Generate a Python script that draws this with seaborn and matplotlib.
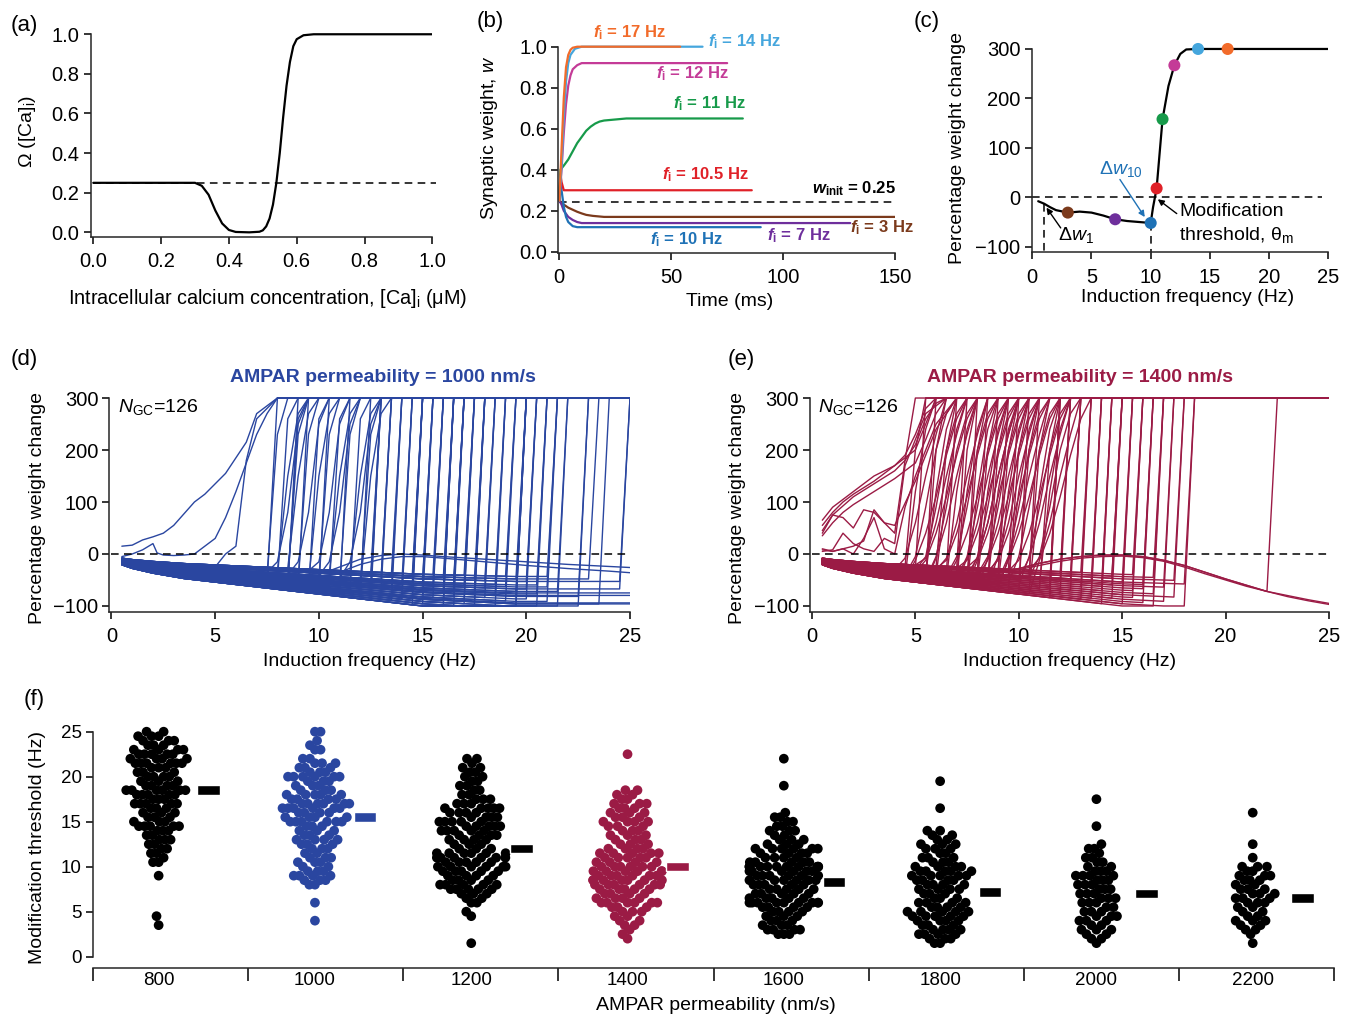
import numpy as np
import pandas as pd
import seaborn as sns
import matplotlib.pyplot as plt

sns.set_style('ticks')
plt.rcParams['font.family'] = ['Liberation Sans', 'DejaVu Sans']
plt.rcParams['mathtext.fontset'] = 'custom'
plt.rcParams['mathtext.rm'] = 'Liberation Sans'
plt.rcParams['mathtext.it'] = 'Liberation Sans:italic'
plt.rcParams['mathtext.bf'] = 'Liberation Sans:bold'
plt.rcParams['mathtext.bfit'] = 'Liberation Sans:italic:bold'
plt.rcParams['text.color'] = 'black'
plt.rcParams['axes.labelcolor'] = 'black'
plt.rcParams['xtick.color'] = 'black'
plt.rcParams['ytick.color'] = 'black'

# ---------------- data ----------------
# (a) calcium dependence
ca_conc = [0.0, 0.30, 0.32, 0.34, 0.36, 0.38, 0.40, 0.42, 0.46, 0.49, 0.50, 0.51, 0.52,
           0.53, 0.54, 0.55, 0.56, 0.57, 0.58, 0.59, 0.60, 0.62, 0.65, 1.0]
omega = [0.25, 0.25, 0.235, 0.19, 0.11, 0.045, 0.012, 0.002, 0.0, 0.003, 0.01, 0.03, 0.07,
         0.14, 0.25, 0.40, 0.58, 0.74, 0.86, 0.94, 0.975, 0.995, 1.0, 1.0]

# (b) synaptic weight time courses
b_t17 = [0, 1, 2, 3, 4, 5, 6, 8, 54]
b_w17 = [0.25, 0.5, 0.75, 0.9, 0.96, 0.985, 0.995, 1.0, 1.0]
b_t14 = [0, 1, 2, 3, 4, 5, 7, 10, 64]
b_w14 = [0.25, 0.42, 0.66, 0.83, 0.92, 0.96, 0.99, 1.0, 1.0]
b_t12 = [0, 1, 2, 3, 4, 5, 6, 8, 10, 15, 75]
b_w12 = [0.25, 0.4, 0.58, 0.72, 0.81, 0.86, 0.89, 0.91, 0.92, 0.92, 0.92]
b_t11 = [0, 0.5, 2, 4, 6, 8, 10, 12, 14, 16, 18, 20, 25, 30, 82]
b_w11 = [0.25, 0.4, 0.42, 0.45, 0.49, 0.53, 0.56, 0.59, 0.61, 0.625, 0.635, 0.64, 0.645, 0.65, 0.65]
b_t105 = [0, 0.5, 1, 2, 3, 86]
b_w105 = [0.25, 0.38, 0.34, 0.3, 0.3, 0.3]
b_t10 = [0, 0.5, 1, 2, 3, 4, 6, 8, 10, 90]
b_w10 = [0.25, 0.36, 0.3, 0.22, 0.17, 0.145, 0.125, 0.12, 0.12, 0.12]
b_t7 = [0, 1, 2, 4, 6, 8, 10, 15, 130]
b_w7 = [0.25, 0.23, 0.2, 0.17, 0.155, 0.145, 0.14, 0.14, 0.14]
b_t3 = [0, 2, 4, 6, 8, 10, 12, 15, 20, 150]
b_w3 = [0.25, 0.23, 0.215, 0.205, 0.195, 0.187, 0.18, 0.175, 0.17, 0.17]

# (c) weight change vs induction frequency
c_curve_f = [0.5, 1, 1.5, 2, 3, 4, 5, 6, 7, 8, 9, 10, 10.2, 10.5, 11, 11.5, 12, 12.5, 13, 14, 16.5, 25]
c_curve_w = [-8, -13, -20, -26, -31, -29, -31, -37, -44.5, -48, -50, -52, -20, 18, 158, 225, 267, 290, 299, 300, 300, 300]
c_pts_f = [3, 7, 10, 10.5, 11, 12, 14, 16.5]
c_pts_w = [-31, -44.5, -52, 18, 158, 267, 300, 300]
c_pts_hz = ['3', '7', '10', '10.5', '11', '12', '14', '17']

# (d)/(e) shared sub-threshold depression profile on the 0.5 Hz grid
ltd_profile = [-18, -24, -28, -32, -35, -38, -41, -43, -45, -47,
               -49, -51, -53, -55, -57, -59, -61, -63, -65, -67,
               -69, -71, -73, -75, -77, -79, -81, -83, -85, -87,
               -88, -89, -90, -91, -92, -93, -94, -95, -96, -96,
               -96, -96, -96, -96, -96, -96, -96, -96, -96, -96]
ltd_scale = [1.0, 0.7, 0.55, 0.9, 0.62, 1.1, 0.8, 0.45, 0.95, 0.66, 1.05, 0.75, 0.85, 1.15, 0.5]
# shapes of the rise through threshold (offset from threshold in Hz, weight change in %)
d_ramps = [
    [(0, 300)],
    [(0, 230), (0.5, 300)],
    [(0, 150), (0.5, 270), (1.0, 300)],
    [(0, 260), (0.5, 300)],
    [(-0.5, -15), (0, 80), (0.5, 250), (1.0, 300)],
]
e_ramps = [
    [(0, 120), (0.5, 240), (1.0, 300)],
    [(-0.5, -8), (0, 60), (0.5, 150), (1.0, 230), (1.5, 300)],
    [(0, 200), (0.5, 300)],
    [(-0.5, -5), (0, 90), (0.5, 200), (1.0, 270), (1.5, 300)],
    [(0, 300)],
    [(-0.5, -12), (0, 40), (0.5, 110), (1.0, 190), (1.5, 260), (2.0, 300)],
]

# (d) traces that rise gradually or never potentiate
d_g1_f = [0.5, 1, 1.5, 2, 2.5, 3, 4, 4.5, 5, 5.5, 6, 6.5, 7, 7.5, 8, 25]
d_g1_w = [15, 17, 27, 33, 40, 55, 100, 115, 135, 155, 185, 215, 270, 285, 300, 300]
d_g2_f = [0.5, 1, 1.5, 2, 2.2, 2.5, 3, 3.5, 4, 5, 5.5, 6, 7, 7.5, 8, 25]
d_g2_w = [-5, 0, 8, 20, 2, -2, -3, -2, 0, 30, 70, 120, 230, 270, 300, 300]
d_g3_f = [0.5, 2, 4, 5, 5.5, 6, 6.5, 7, 8, 25]
d_g3_w = [-10, -22, -32, -25, 0, 15, 180, 260, 300, 300]
d_hump_f = [0.5, 2, 4, 6, 8, 10, 11, 12, 13, 14, 15, 16, 18, 20, 22, 24, 25]
d_hump_w1 = [-15, -28, -38, -45, -50, -40, -25, -10, -3, 0, -2, -5, -10, -15, -20, -24, -26]
d_hump_w2 = [-18, -30, -42, -50, -55, -48, -35, -20, -10, -5, -5, -8, -15, -22, -28, -33, -36]
d_flat_scale = [0.78, 0.83, 0.98, 1.0]

# (e) traces that start potentiated or never potentiate
e_g_f = [
    [0.5, 1, 2, 3, 4, 4.5, 5, 5.5, 6, 25],
    [0.5, 1, 2, 3, 4, 4.5, 5, 5.5, 6, 6.5, 25],
    [0.5, 1, 1.5, 2, 3, 4, 5, 5.5, 6, 6.5, 25],
    [0.5, 1, 1.5, 2, 2.5, 3, 3.5, 4, 5, 6, 7, 25],
    [0.5, 1, 1.5, 2, 2.5, 3, 3.5, 4, 4.5, 5, 6, 7, 25],
    [0.5, 1, 1.5, 2, 2.5, 3, 3.5, 4, 4.5, 5.5, 6.5, 25],
    [0.5, 1, 1.5, 2, 3, 3.5, 4, 5, 5.5, 6, 25],
    [0.5, 1, 1.5, 2, 2.5, 3, 3.5, 4, 4.5, 5, 25],
]
e_g_w = [
    [65, 90, 120, 150, 170, 190, 230, 280, 300, 300],
    [45, 75, 110, 135, 160, 180, 210, 260, 290, 300, 300],
    [35, 60, 80, 95, 120, 145, 175, 220, 270, 300, 300],
    [40, 75, 70, 50, 85, 80, 60, 55, 140, 240, 300, 300],
    [10, 5, 10, 0, 30, 70, 10, 0, 90, 150, 250, 300, 300],
    [5, 8, 40, 20, 10, 5, 30, 20, 170, 270, 300, 300],
    [55, 80, 100, 115, 140, 155, 170, 200, 250, 300, 300],
    [8, 5, 10, 15, 25, 85, 60, 40, 180, 300, 300],
]
e_hump_f = [0.5, 2, 4, 6, 8, 10, 11, 12, 13, 14, 15, 16, 17, 18, 19, 20, 21, 22, 23, 24, 25]
e_hump_w1 = [-15, -28, -38, -42, -40, -28, -18, -10, -5, -2, -2, -5, -12, -22, -35, -48, -60, -72, -80, -88, -95]
e_hump_w2 = [-18, -30, -40, -45, -42, -30, -22, -14, -8, -5, -4, -7, -14, -25, -38, -50, -62, -72, -82, -90, -97]
e_late_thr = 22.5

# (f) modification thresholds (Hz): counts at each 0.5 Hz level
perm_labels = ['800', '1000', '1200', '1400', '1600', '1800', '2000', '2200']
thr_counts = {
    '800': {25: 2, 24.5: 3, 24: 3, 23.5: 3, 23: 4, 22.5: 5, 22: 4, 21.5: 6, 21: 3, 20.5: 3,
            20: 4, 19.5: 3, 19: 4, 18.5: 6, 18: 5, 17.5: 3, 17: 5, 16.5: 3, 16: 3, 15.5: 3,
            15: 3, 14.5: 5, 14: 3, 13.5: 2, 13: 3, 12.5: 2, 12: 2, 11.5: 2, 11: 1, 10.5: 2,
            9: 1, 4.5: 1, 3.5: 1},
    '1000': {25: 2, 24: 1, 23.5: 1, 23: 2, 22: 2, 21.5: 3, 21: 3, 20.5: 3, 20: 6, 19.5: 3,
             19: 3, 18.5: 3, 18: 5, 17.5: 4, 17: 6, 16.5: 6, 16: 4, 15.5: 4, 15: 6, 14.5: 3,
             14: 3, 13.5: 3, 13: 4, 12.5: 3, 12: 3, 11.5: 2, 11: 3, 10.5: 3, 10: 2, 9.5: 3,
             9: 4, 8.5: 3, 8: 2, 6: 1, 4: 1},
    '1200': {22: 2, 21.5: 1, 21: 2, 20.5: 2, 20: 2, 19.5: 2, 19: 2, 18.5: 2, 18: 2, 17.5: 3,
             17: 3, 16.5: 5, 16: 4, 15.5: 4, 15: 5, 14.5: 5, 14: 5, 13.5: 4, 13: 4, 12.5: 3,
             12: 3, 11.5: 6, 11: 6, 10.5: 5, 10: 6, 9.5: 5, 9: 4, 8.5: 4, 8: 5, 7.5: 5,
             7: 3, 6.5: 2, 6: 2, 5: 1, 4.5: 1, 1.5: 1},
    '1400': {22.5: 1, 18.5: 2, 18: 2, 17.5: 2, 17: 3, 16.5: 3, 16: 3, 15.5: 3, 15: 4, 14.5: 3,
             14: 3, 13.5: 3, 13: 3, 12.5: 3, 12: 4, 11.5: 5, 11: 5, 10.5: 4, 10: 6, 9.5: 6,
             9: 6, 8.5: 7, 8: 6, 7.5: 5, 7: 4, 6.5: 4, 6: 6, 5.5: 3, 5: 3, 4.5: 2,
             4: 2, 3.5: 2, 3: 1, 2.5: 1, 2: 1},
    '1600': {22: 1, 19: 1, 16: 1, 15.5: 2, 15: 2, 14.5: 2, 14: 3, 13.5: 2, 13: 3, 12.5: 3,
             12: 6, 11.5: 4, 11: 4, 10.5: 5, 10: 10, 9.5: 6, 9: 6, 8.5: 6, 8: 5, 7.5: 5,
             7: 5, 6.5: 5, 6: 9, 5.5: 4, 5: 4, 4.5: 3, 4: 3, 3.5: 3, 3: 4, 2.5: 3},
    '1800': {19.5: 1, 16.5: 1, 14: 2, 13.5: 2, 13: 2, 12.5: 3, 12: 3, 11.5: 2, 11: 3, 10.5: 3,
             10: 4, 9.5: 5, 9: 5, 8.5: 4, 8: 4, 7.5: 4, 7: 3, 6.5: 3, 6: 4, 5.5: 4,
             5: 5, 4.5: 5, 4: 4, 3.5: 3, 3: 4, 2.5: 4, 2: 3, 1.5: 2},
    '2000': {17.5: 1, 14.5: 1, 12.5: 1, 12: 2, 11.5: 1, 11: 2, 10.5: 2, 10: 2, 9.5: 3, 9: 4,
             8.5: 3, 8: 3, 7.5: 3, 7: 3, 6.5: 3, 6: 3, 5.5: 2, 5: 3, 4.5: 3, 4: 3,
             3.5: 2, 3: 3, 2.5: 2, 2: 2, 1.5: 1},
    '2200': {16: 1, 12.5: 1, 11: 1, 10: 3, 9.5: 2, 9: 3, 8.5: 3, 8: 2, 7.5: 3, 7: 3,
             6.5: 3, 6: 3, 5.5: 2, 5: 2, 4.5: 2, 4: 3, 3.5: 2, 3: 2, 2.5: 1, 1.5: 1},
}
thr_means = [18.5, 15.5, 12.0, 10.0, 8.3, 7.2, 7.0, 6.5]

# ---------------- colours ----------------
C17, C14, C12, C11 = '#f26b2a', '#45a6dd', '#c43b97', '#179a4a'
C105, C10, C7, C3 = '#e02128', '#1f72b6', '#6e2f9c', '#7b3a1c'
BLUE, CRIMSON = '#2a46a0', '#9b1b45'
hz_colors = {'3': C3, '7': C7, '10': C10, '10.5': C105, '11': C11,
             '12': C12, '14': C14, '17': C17}
swarm_colors = {'800': 'black', '1000': BLUE, '1200': 'black', '1400': CRIMSON,
                '1600': 'black', '1800': 'black', '2000': 'black', '2200': 'black'}

W, H = 1354, 1018
fig = plt.figure(figsize=(W / 100, H / 100), dpi=100)


def px_axes(x0, x1, y0, y1):
    return fig.add_axes([x0 / W, 1 - y1 / H, (x1 - x0) / W, (y1 - y0) / H])


def ftext(x, y, s, **kw):
    fig.text(x / W, 1 - y / H, s, **kw)


def style(ax, ybounds, size=14.5):
    sns.despine(ax=ax)
    ax.spines['left'].set_bounds(*ybounds)
    for s in ['left', 'bottom']:
        ax.spines[s].set_linewidth(1.1)
    ax.tick_params(direction='out', length=5, width=1.1, labelsize=size)
    ax.tick_params(axis='x', pad=6)
    ax.tick_params(axis='y', pad=3)
    ax.set_xlabel('')
    ax.set_ylabel('')


# ---------------- (a) ----------------
ax_a = px_axes(90.7, 432.3, 30.3, 236.7)
sns.lineplot(x=ca_conc, y=omega, ax=ax_a, color='black', lw=1.6)
ax_a.plot([0, 1.01], [0.25, 0.25], color='black', lw=1.1, dashes=(5, 3.5), clip_on=False)
ax_a.set_xlim(-0.0077, 1.0)
ax_a.set_ylim(-0.022, 1.02)
ax_a.set_xticks([0, 0.2, 0.4, 0.6, 0.8, 1.0])
ax_a.set_yticks([0, 0.2, 0.4, 0.6, 0.8, 1.0])
ax_a.xaxis.set_major_formatter('{x:.1f}')
ax_a.yaxis.set_major_formatter('{x:.1f}')
style(ax_a, (-0.022, 1.0))
ftext(28, 131, r'$\Omega$ ([Ca]$_\mathregular{i}$)', rotation=90, ha='center', va='center', fontsize=14)
ftext(268, 298, r'Intracellular calcium concentration, [Ca]$_\mathregular{i}$ ($\mathregular{\mu}$M)',
      ha='center', va='center', fontsize=14.3)

# ---------------- (b) ----------------
ax_b = px_axes(558.3, 895, 42.6, 253)
ax_b.plot([0, 150], [0.245, 0.245], color='black', lw=1.1, dashes=(5, 3.5))
for t, w, c in [(b_t3, b_w3, C3), (b_t7, b_w7, C7), (b_t10, b_w10, C10), (b_t105, b_w105, C105),
                (b_t11, b_w11, C11), (b_t12, b_w12, C12), (b_t14, b_w14, C14), (b_t17, b_w17, C17)]:
    sns.lineplot(x=t, y=w, ax=ax_b, color=c, lw=1.6)
ax_b.set_xlim(-0.45, 150)
ax_b.set_ylim(-0.006, 1.02)
ax_b.set_xticks([0, 50, 100, 150])
ax_b.set_yticks([0, 0.2, 0.4, 0.6, 0.8, 1.0])
ax_b.yaxis.set_major_formatter('{x:.1f}')
style(ax_b, (-0.006, 1.0))
b_labels = [(15, 1.067, '17', C17), (66.5, 1.024, '14', C14), (43, 0.87, '12', C12),
            (51, 0.724, '11', C11), (46, 0.374, '10.5', C105), (130, 0.117, '3', C3),
            (93, 0.081, '7', C7), (40.6, 0.057, '10', C10)]
for x, y, hz, c in b_labels:
    ax_b.text(x, y, r'$\mathbfit{f}_\mathregular{i}$ = ' + hz + ' Hz', color=c, fontsize=12,
              fontweight='bold', ha='left', va='center', clip_on=False)
ax_b.text(113, 0.31, r'$\mathbfit{w}_\mathbf{init}$ = 0.25', color='black', fontsize=12,
          fontweight='bold', ha='left', va='center')
ftext(490, 138, r'Synaptic weight, $w$', rotation=90, ha='center', va='center', fontsize=14)
ftext(730, 302, 'Time (ms)', ha='center', va='center', fontsize=14)

# ---------------- (c) ----------------
ax_c = px_axes(1031.7, 1328.3, 46, 252.3)
ax_c.plot([0, 24.5], [0, 0], color='black', lw=1.1, dashes=(5, 3.5))
ax_c.plot([1, 1], [-13, -111], color='black', lw=1.1, dashes=(5, 3.5))
ax_c.plot([10, 10], [-52, -111], color='black', lw=1.1, dashes=(5, 3.5))
sns.lineplot(x=c_curve_f, y=c_curve_w, ax=ax_c, color='black', lw=1.6)
sns.scatterplot(x=c_pts_f, y=c_pts_w, hue=c_pts_hz, palette=hz_colors, s=75,
                edgecolor='none', legend=False, ax=ax_c, zorder=5, clip_on=False)
ax_c.set_xlim(-0.05, 25)
ax_c.set_ylim(-111.3, 306)
ax_c.set_xticks([0, 5, 10, 15, 20, 25])
ax_c.set_yticks([-100, 0, 100, 200, 300])
style(ax_c, (-111.3, 300))
arrow_kw = dict(arrowstyle='-|>', lw=1.0, mutation_scale=9, shrinkA=0, shrinkB=0)
ax_c.annotate('', xy=(1.2, -21), xytext=(2.4, -62), arrowprops=dict(color='black', **arrow_kw))
ax_c.annotate('', xy=(9.5, -40), xytext=(7.4, 36), arrowprops=dict(color=C10, **arrow_kw))
ax_c.annotate('', xy=(10.6, -4), xytext=(12.2, -33), arrowprops=dict(color='black', **arrow_kw))
ax_c.text(2.2, -77, r'$\Delta w_\mathregular{1}$', fontsize=14, ha='left', va='center')
ax_c.text(5.6, 58, r'$\Delta w_\mathregular{10}$', fontsize=14, ha='left', va='center', color=C10)
ax_c.text(12.4, -28, 'Modification', fontsize=14, ha='left', va='center')
ax_c.text(12.4, -77, r'threshold, $\mathregular{\theta_m}$', fontsize=14, ha='left', va='center')
ftext(957, 148, 'Percentage weight change', rotation=90, ha='center', va='center', fontsize=14)
ftext(1188, 298, 'Induction frequency (Hz)', ha='center', va='center', fontsize=14)

# ---------------- (d) & (e) ----------------
freqs = np.arange(0.5, 25.01, 0.5)
profile = np.array(ltd_profile, dtype=float)


def threshold_traces(thresholds, ramps, ramp_cut):
    rows = []
    for k, th in enumerate(thresholds):
        sc = ltd_scale[k % len(ltd_scale)]
        ramp = ramps[k % len(ramps)] if th < ramp_cut else [(0, 300)]
        below = freqs < th + ramp[0][0] - 0.01
        xs = list(freqs[below])
        ys = list(np.maximum(profile[below] * sc, -100))
        for dx, v in ramp:
            xs.append(th + dx)
            ys.append(v)
        if xs[-1] < 25:
            xs.append(25)
            ys.append(300)
        rows += [(k, x, y) for x, y in zip(xs, ys)]
    return rows


def expand(counts):
    return [v for v, c in sorted(counts.items()) for _ in range(c)]


# (d)
d_thr = [v for v in expand(thr_counts['1000']) if v >= 7.5]
d_rows = threshold_traces(d_thr, d_ramps, 13)
extra = [(d_g1_f, d_g1_w), (d_g2_f, d_g2_w), (d_g3_f, d_g3_w),
         (d_hump_f, d_hump_w1), (d_hump_f, d_hump_w2)]
extra += [(list(freqs), list(profile * s)) for s in d_flat_scale]
n0 = len(d_thr)
for j, (fx, wy) in enumerate(extra):
    d_rows += [(n0 + j, x, y) for x, y in zip(fx, wy)]
df_d = pd.DataFrame(d_rows, columns=['trace', 'freq', 'dw'])

# (e)
e_thr = [v for v in expand(thr_counts['1400']) if 5 <= v < 20]
e_rows = threshold_traces(e_thr, e_ramps, 12)
e_extra = list(zip(e_g_f, e_g_w))
e_extra += [(e_hump_f, e_hump_w1), (e_hump_f, e_hump_w2)]
late_f = [f for f in e_hump_f if f < e_late_thr] + [e_late_thr, 25]
late_w = [w for f, w in zip(e_hump_f, e_hump_w1) if f < e_late_thr] + [300, 300]
e_extra.append((late_f, late_w))
n0 = len(e_thr)
for j, (fx, wy) in enumerate(e_extra):
    e_rows += [(n0 + j, x, y) for x, y in zip(fx, wy)]
df_e = pd.DataFrame(e_rows, columns=['trace', 'freq', 'dw'])

ax_d = px_axes(109.4, 630, 394.9, 611.7)
ax_e = px_axes(809.9, 1329, 394.9, 611.7)
for ax, df, col, perm, cx in [(ax_d, df_d, BLUE, '1000', 383), (ax_e, df_e, CRIMSON, '1400', 1080)]:
    sns.lineplot(data=df, x='freq', y='dw', units='trace', estimator=None, color=col,
                 lw=1.0, ax=ax, sort=False)
    ax.plot([0, 25], [0, 0], color='black', lw=1.1, dashes=(5, 3.5), zorder=5)
    ax.set_xlim(-0.1, 25)
    ax.set_ylim(-111, 306)
    ax.set_xticks([0, 5, 10, 15, 20, 25])
    ax.set_yticks([-100, 0, 100, 200, 300])
    style(ax, (-111, 300))
    ax.text(0.3, 282, r'$N_\mathregular{GC}$=126', fontsize=14, ha='left', va='center')
    ftext(cx, 377, 'AMPAR permeability = ' + perm + ' nm/s', color=col, fontsize=14,
          fontweight='bold', ha='center', va='center')
    left = ax.get_position().x0 * W
    ftext(left - 72, 508, 'Percentage weight change', rotation=90, ha='center', va='center', fontsize=14)
    ftext((ax.get_position().x0 + ax.get_position().x1) / 2 * W, 662, 'Induction frequency (Hz)',
          ha='center', va='center', fontsize=14)

# ---------------- (f) ----------------
f_rows = [(p, v) for p in perm_labels for v in expand(thr_counts[p])]
df_f = pd.DataFrame(f_rows, columns=['perm', 'thr'])
ax_f = px_axes(93, 1334, 722.7, 968)
sns.swarmplot(data=df_f, x='perm', y='thr', hue='perm', order=perm_labels, palette=swarm_colors,
              size=7, linewidth=0, legend=False, ax=ax_f, warn_thresh=1.0)
ax_f.set_xlim(-0.42, 7.52)
ax_f.set_ylim(-1.26, 26)
# let seaborn lay out the swarms once, then freeze them and pull them closer together
# (the reference clusters overlap much more than a strict swarm)
fig.canvas.draw()
for coll in ax_f.collections:
    if 'draw' in coll.__dict__:
        del coll.draw
    off = np.array(coll.get_offsets())
    if len(off):
        centre = np.round(np.median(off[:, 0]))
        off[:, 0] = centre + (off[:, 0] - centre) * 0.55
        coll.set_offsets(off)
for i, (p, m) in enumerate(zip(perm_labels, thr_means)):
    ax_f.bar(i + 0.32, 1.05, bottom=m - 0.525, width=0.145, color=swarm_colors[p], zorder=4)
ax_f.set_xlim(-0.42, 7.52)
ax_f.set_ylim(-1.26, 26)
ax_f.set_yticks([0, 5, 10, 15, 20, 25])
ax_f.set_xticks([-0.42 + 0.9925 * k for k in range(9)])
ax_f.set_xticklabels([''] * 9)
ax_f.set_xticks(range(8), minor=True)
ax_f.set_xticklabels(perm_labels, minor=True)
style(ax_f, (0, 25), size=13.5)
ax_f.tick_params(axis='x', which='major', length=9)
ax_f.tick_params(axis='x', which='minor', length=0, labelsize=13.5, pad=3)
ftext(38, 848, 'Modification threshold (Hz)', rotation=90, ha='center', va='center', fontsize=14)
ftext(716, 1006, 'AMPAR permeability (nm/s)', ha='center', va='center', fontsize=14)

# panel letters
for s, x, y in [('(a)', 24, 25), ('(b)', 490, 22), ('(c)', 927, 22), ('(d)', 24, 360),
                ('(e)', 741, 360), ('(f)', 34, 700)]:
    ftext(x, y, s, ha='center', va='center', fontsize=16)

fig.savefig('out.png', dpi=100)
